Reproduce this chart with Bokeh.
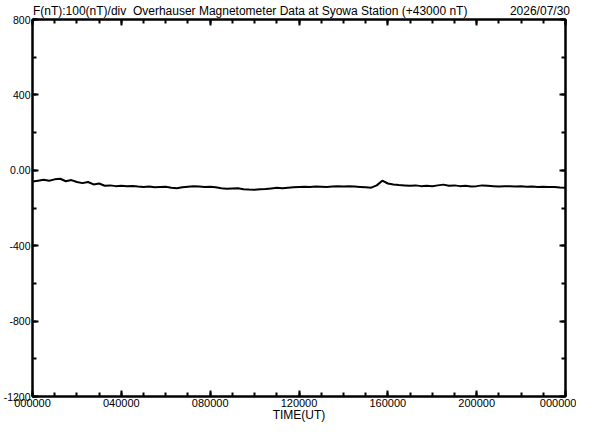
from bokeh.plotting import figure
from bokeh.models import Range1d, LinearAxis, FixedTicker
from bokeh.embed import file_html
from bokeh.resources import INLINE

# Data: F (nT) minus 43000, every 15 minutes, hours UT
hours = [i * 0.25 for i in range(97)]
values = [
    -60, -55, -50, -55, -48, -45, -58, -52, -62, -68, -62, -75,
    -70, -82, -80, -84, -82, -85, -83, -86, -88, -86, -90, -88,
    -87, -92, -95, -90, -87, -85, -86, -88, -87, -90, -95, -98,
    -96, -95, -100, -102, -103, -100, -99, -96, -93, -95, -92, -90,
    -88, -87, -89, -86, -87, -88, -86, -85, -86, -84, -86, -88,
    -90, -92, -80, -55, -70, -75, -78, -80, -82, -80, -84, -82,
    -85, -80, -76, -82, -80, -84, -82, -86, -84, -80, -82, -84,
    -86, -85, -84, -86, -85, -87, -86, -88, -87, -89, -88, -91,
    -92,
]
x_ticks = [0, 4, 8, 12, 16, 20, 24]
x_tick_labels = ["000000", "040000", "080000", "120000", "160000", "200000", "000000"]
y_ticks = [-1200, -800, -400, 0, 400, 800]
y_tick_labels = ["-1200", "-800", "-400", "0.00", "400", "800"]
title_text = "F(nT):100(nT)/div \u00a0Overhauser Magnetometer Data at Syowa Station (+43000 nT)"
date_text = "2026/07/30"
x_label = "TIME(UT)"
# header text anchor positions along the time axis (hours)
title_pos = 9.8
date_pos = 22.85

FONT = "Liberation Sans"

p = figure(width=576, height=424, x_range=Range1d(0, 24), y_range=Range1d(-1200, 800),
           output_backend="svg", toolbar_location=None, title=None,
           min_border_left=27, min_border_right=11, min_border_top=0, min_border_bottom=0,
           x_axis_label=x_label)
p.grid.visible = False
p.outline_line_color = "black"
p.outline_line_width = 2
p.background_fill_color = "white"
p.border_fill_color = "white"

def style(ax):
    ax.axis_line_color = "black"
    ax.axis_line_width = 2
    ax.major_tick_in = 6
    ax.major_tick_out = 0
    ax.minor_tick_in = 4
    ax.minor_tick_out = 0
    ax.major_tick_line_color = "black"
    ax.minor_tick_line_color = "black"
    ax.major_tick_line_width = 2
    ax.minor_tick_line_width = 2
    ax.major_label_text_font = FONT
    ax.major_label_text_color = "black"
    ax.major_label_text_font_size = "11px"

xt = FixedTicker(ticks=x_ticks, minor_ticks=list(range(25)))
yt = FixedTicker(ticks=y_ticks, minor_ticks=list(range(-1200, 801, 200)))

bx = p.xaxis[0]
bx.ticker = xt
bx.major_label_overrides = dict(zip(x_ticks, x_tick_labels))
style(bx)
bx.major_label_standoff = 2
bx.axis_label_standoff = -2
bx.axis_label_text_font = FONT
bx.axis_label_text_font_size = "12px"
bx.axis_label_text_font_style = "normal"
bx.axis_label_text_color = "black"

ly = p.yaxis[0]
ly.ticker = yt
ly.major_label_overrides = dict(zip(y_ticks, y_tick_labels))
style(ly)
ly.major_label_standoff = 2
ly.major_label_text_font_size = "10.5px"

tx = LinearAxis(ticker=xt, major_label_overrides={t: "" for t in x_ticks})
style(tx)
tx.major_label_standoff = 0
tx.major_label_text_font_size = "1px"
p.add_layout(tx, "above")

hdr = LinearAxis(ticker=FixedTicker(ticks=[title_pos, date_pos], minor_ticks=[]),
                 major_label_overrides={title_pos: title_text, date_pos: date_text})
hdr.axis_line_color = None
hdr.major_tick_line_color = None
hdr.minor_tick_line_color = None
hdr.major_tick_in = 0
hdr.major_tick_out = 0
hdr.major_label_standoff = 2
hdr.major_label_text_font = FONT
hdr.major_label_text_font_size = "12px"
hdr.major_label_text_color = "black"
p.add_layout(hdr, "above")

ry = LinearAxis(ticker=yt, major_label_overrides={t: "" for t in y_ticks})
style(ry)
ry.major_label_standoff = 0
ry.major_label_text_font_size = "1px"
p.add_layout(ry, "right")

p.line(hours, values, line_color="black", line_width=2)

open("out.html", "w").write(file_html(p, INLINE))
